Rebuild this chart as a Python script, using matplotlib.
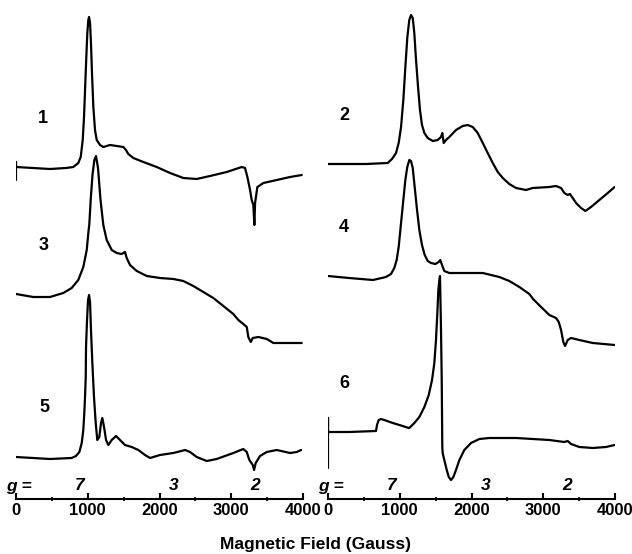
import matplotlib
matplotlib.use("Agg")
from matplotlib import pyplot as plt

# EPR traces: field (G) and signal (arbitrary units)
field1 = [0, 0, 0, 237, 474, 697, 799, 868, 902, 930, 948, 966, 980, 994, 1008, 1018, 1032, 1045,
          1059, 1078, 1101, 1125, 1171, 1217, 1310, 1404, 1496, 1533, 1565, 1635, 1775, 1961, 2147,
          2332, 2519, 2704, 2937, 3146, 3192, 3225, 3262, 3285, 3308, 3322, 3332, 3364, 3448, 3634,
          3820, 3983]
sig1 = [-13, 5, 0, -1, -2, -1, 0, 4, 10, 27, 50, 84, 110, 134, 147, 150, 144, 124,
        94, 60, 37, 27, 22, 20, 22, 21, 20, 17, 13, 9, 5, 0, -6,
        -11, -12, -9, -5, 0, -1, -10, -23, -33, -38, -58, -36, -20, -16, -13,
        -10, -8]

field3 = [0, 241, 474, 659, 776, 868, 938, 986, 1008, 1022, 1041, 1066, 1092, 1115, 1143, 1178, 1217,
          1264, 1334, 1404, 1473, 1519, 1543, 1589, 1683, 1822, 2007, 2193, 2332, 2471, 2611, 2750,
          2890, 3029, 3099, 3168, 3216, 3238, 3272, 3300, 3378, 3495, 3587, 3983]
sig3 = [0, -3, -3, 1, 6, 14, 27, 44, 61, 70, 94, 119, 134, 138, 126, 94, 69,
        54, 44, 41, 40, 42, 36, 29, 23, 18, 16, 15, 13, 8, 2, -4,
        -12, -20, -26, -30, -33, -43, -48, -44, -43, -45, -49, -49]

field5 = [0, 474, 776, 836, 883, 916, 938, 952, 962, 972, 976, 990, 1004, 1018, 1032, 1045, 1064,
          1087, 1111, 1133, 1161, 1185, 1203, 1227, 1255, 1287, 1334, 1394, 1450, 1519, 1613, 1705,
          1798, 1868, 2007, 2193, 2356, 2425, 2519, 2658, 2797, 3029, 3168, 3216, 3252, 3300, 3318,
          3341, 3401, 3495, 3634, 3820, 3913, 3973]
sig5 = [0, -2, -1, 1, 5, 14, 27, 44, 60, 80, 110, 137, 157, 162, 155, 127, 94,
        60, 34, 17, 20, 34, 39, 30, 17, 12, 17, 21, 17, 12, 10, 7,
        2, -1, 2, 4, 7, 5, 0, -4, -2, 4, 8, 5, -3, -8, -13,
        -6, 1, 5, 7, 4, 5, 7]

field2 = [0, 293, 530, 832, 892, 948, 985, 1018, 1050, 1078, 1106, 1133, 1157, 1181, 1203, 1227, 1255,
          1282, 1310, 1343, 1390, 1460, 1529, 1575, 1593, 1613, 1645, 1691, 1784, 1878, 1947, 2017,
          2087, 2157, 2226, 2296, 2366, 2436, 2527, 2621, 2760, 2853, 3086, 3178, 3248, 3294, 3341,
          3373, 3401, 3457, 3527, 3587, 3666, 3782, 3899, 3995]
sig2 = [0, 0, 0, 1, 5, 11, 21, 37, 64, 97, 127, 144, 149, 146, 131, 104, 77,
        54, 39, 31, 26, 23, 24, 27, 31, 21, 24, 27, 34, 38, 39, 37,
        31, 21, 11, 1, -8, -14, -20, -24, -26, -24, -23, -22, -24, -29, -31,
        -30, -33, -39, -44, -47, -43, -36, -29, -23]

field4 = [0, 293, 627, 808, 878, 924, 957, 985, 1018, 1050, 1078, 1105, 1133, 1157, 1181, 1208, 1241,
          1273, 1310, 1348, 1390, 1436, 1496, 1543, 1565, 1589, 1621, 1691, 1924, 2157, 2388, 2527,
          2667, 2806, 2858, 2970, 3085, 3178, 3216, 3248, 3280, 3304, 3341, 3387, 3503, 3690, 3995]
sig4 = [0, -2, -4, -1, 2, 8, 16, 29, 53, 76, 96, 109, 116, 115, 108, 89, 66,
        46, 31, 21, 15, 13, 12, 14, 16, 11, 5, 3, 3, 3, -1, -5,
        -11, -18, -23, -31, -39, -42, -46, -54, -66, -70, -64, -62, -64, -67, -69]

field6 = [0, 0, 0, 293, 669, 683, 707, 739, 785, 902, 1041, 1125, 1133, 1203, 1273, 1343, 1404, 1450,
          1482, 1505, 1524, 1538, 1552, 1561, 1575, 1585, 1589, 1593, 1598, 1621, 1655, 1683, 1715,
          1747, 1784, 1831, 1900, 1993, 2110, 2249, 2621, 3085, 3294, 3341, 3387, 3503, 3690, 3875,
          3995]
sig6 = [-36, 14, 0, 0, 1, 7, 12, 13, 12, 9, 6, 4, 4, 9, 15, 25, 37, 52,
        69, 92, 119, 142, 152, 156, 102, 52, 19, -15, -21, -28, -38, -45, -48,
        -45, -38, -28, -18, -11, -7, -6, -6, -8, -10, -9, -12, -15, -16, -15,
        -13]

tickVals = [0, 1000, 2000, 3000, 4000]
gLabels = ["7", "3", "2"]
gFields = [890, 2200, 3330]

fontName = "Liberation Sans"


def drawPanel(ax, traces):
    for (fld, sig, offset, name, labelX) in traces:
        ax.plot(fld, [s + offset for s in sig], color="black", lw=1.6,
                solid_joinstyle="round", solid_capstyle="round")
        ax.text(labelX, offset + 49, name, fontsize=13, fontweight="bold",
                family=fontName, ha="center", va="center")
    ax.set_xlim(0, 4000)
    ax.set_ylim(0, 499)
    for side in ["top", "right", "left"]:
        ax.spines[side].set_visible(False)
    ax.spines["bottom"].set_linewidth(1.5)
    ax.set_yticks([])
    ax.set_xticks(tickVals)
    ax.set_xticks([500, 1500, 2500, 3500], minor=True)
    ax.tick_params(axis="x", which="major", direction="in", length=4, width=1.5, pad=3)
    ax.tick_params(axis="x", which="minor", direction="inout", length=3, width=1.2)
    for lbl in ax.get_xticklabels():
        lbl.set_fontweight("bold")
        lbl.set_family(fontName)
        lbl.set_fontsize(12)
    ax.text(-140, 13, "g =", fontsize=12.5, fontweight="bold", style="italic",
            family=fontName, ha="left", va="center", clip_on=False)
    for gl, gf in zip(gLabels, gFields):
        ax.text(gf, 13, gl, fontsize=12.5, fontweight="bold", style="italic",
                family=fontName, ha="center", va="center")


def main():
    fig = plt.figure(figsize=(6.32, 5.54), dpi=100)
    axL = fig.add_axes([16 / 632, 1 - 499 / 554, 287 / 632, 499 / 554])
    axR = fig.add_axes([328 / 632, 1 - 499 / 554, 287 / 632, 499 / 554])
    axL.patch.set_alpha(0)
    axR.patch.set_alpha(0)

    drawPanel(axL, [(field1, sig1, 332, "1", 376),
                    (field3, sig3, 205, "3", 390),
                    (field5, sig5, 42, "5", 390)])
    drawPanel(axR, [(field2, sig2, 335, "2", 223),
                    (field4, sig4, 223, "4", 223),
                    (field6, sig6, 67, "6", 223)])

    fig.text(0.5, 1 - 545 / 554, "Magnetic Field (Gauss)", fontsize=12.5, fontweight="bold",
             family=fontName, ha="center", va="center")
    fig.savefig("out.png", dpi=100)


if __name__ == "__main__":
    main()
